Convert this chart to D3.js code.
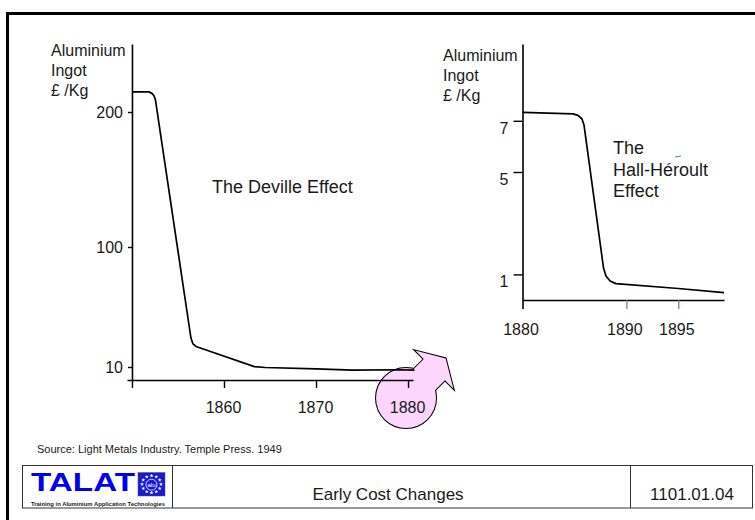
<!DOCTYPE html>
<html lang="en">
<head>
<meta charset="utf-8">
<title>Early Cost Changes</title>
<style>
  body { margin: 0; background: #fff; }
  svg text { font-family: Arial, "Liberation Sans", sans-serif; fill: #1a1a1a; }
</style>
<script src="https://cdn.jsdelivr.net/npm/d3@7"></script>
</head>
<body>
<svg id="chart" width="755" height="520"></svg>
<script>
// ---- data ----
// Deville period (left panel), price in pounds per kg
var leftYears  = [1850, 1851.85, 1852.17, 1852.39, 1852.55, 1856.41, 1856.63, 1856.96, 1863.3, 1864.5, 1870, 1874, 1879, 1880.7];
var leftPrice  = [214.8, 214.8, 213.7, 211.9, 208.9, 31.7, 27.3, 25.4, 10.3, 9.6, 8.6, 7.6, 7.9, 7.6];
var leftYTicks = [10, 100, 200];
var leftXTicks = [1850, 1860, 1870, 1880];

// Hall-Heroult period (right panel)
var rightYears  = [1880, 1884.86, 1885.34, 1885.73, 1885.92, 1887.8, 1888.04, 1888.43, 1889.0, 1895, 1899.4];
var rightPrice  = [7.33, 7.27, 7.21, 7.07, 6.84, 1.25, 0.94, 0.74, 0.64, 0.45, 0.29];
var rightYTicks = [1, 5, 7];
var rightXTicks = [1880, 1890, 1895];

var svg = d3.select("#chart");

// slide frame (only top and left edges fall inside the picture)
svg.append("rect")
  .attr("x", 7.5).attr("y", 13.5)
  .attr("width", 800).attr("height", 600)
  .attr("fill", "none").attr("stroke", "#000").attr("stroke-width", 3);

// ---------- left panel ----------
var xL = d3.scaleLinear().domain([1849.46, 1880.54]).range([127, 413]);
// the slide's axis is not linear: piecewise scale
var yL = d3.scaleLinear().domain([0, 10, 100, 200, 250]).range([380, 367, 247, 112, 44]);

// pink circle + arrow behind the 1880 label
var cx = xL(1880) - 2, cy = yL(0) + 18;
var arrowPts = [[0, -15], [40, -15], [40, -27], [56, 0], [40, 27], [40, 15], [0, 15]];
var deco = svg.append("g");
function drawDeco(stroked) {
  deco.append("polygon")
    .attr("points", arrowPts.map(function(p) { return p.join(","); }).join(" "))
    .attr("transform", "translate(" + cx + "," + cy + ") rotate(-45)")
    .attr("fill", "#fdd6fd")
    .attr("stroke", stroked ? "#000" : "none").attr("stroke-width", 2);
  deco.append("circle")
    .attr("cx", cx).attr("cy", cy).attr("r", 30)
    .attr("fill", "#fdd6fd")
    .attr("stroke", stroked ? "#000" : "none").attr("stroke-width", 2);
}
drawDeco(true);
drawDeco(false);

var gLy = svg.append("g")
  .attr("transform", "translate(" + xL(1850) + ",0)")
  .call(d3.axisLeft(yL).tickValues(leftYTicks).tickSize(4).tickSizeOuter(0).tickPadding(5));
gLy.selectAll("text").style("font-size", "16px").attr("dy", "0.36em");

var gLx = svg.append("g")
  .attr("transform", "translate(0," + yL(0) + ")")
  .call(d3.axisBottom(xL).tickValues(leftXTicks).tickSize(8).tickSizeOuter(0)
    .tickFormat(function(d) { return d == 1850 ? "" : d; }));
gLx.selectAll("text").style("font-size", "16px").attr("y", 33).attr("dy", 0).attr("dx", -1);

[gLy, gLx].forEach(function(g) {
  g.select(".domain").attr("stroke", "#000").attr("stroke-width", 1.6);
  g.selectAll(".tick line").attr("stroke", "#000").attr("stroke-width", 1.4);
});

var leftLine = d3.line()
  .x(function(d, i) { return xL(leftYears[i]); })
  .y(function(d) { return yL(d); });
svg.append("path")
  .attr("d", leftLine(leftPrice))
  .attr("fill", "none").attr("stroke", "#000").attr("stroke-width", 1.7)
  .attr("stroke-linejoin", "round");

var unitsL = ["Aluminium", "Ingot", "£ /Kg"];
svg.append("g").selectAll("text").data(unitsL).enter().append("text")
  .attr("x", 51).attr("y", function(d, i) { return 56 + i * 20; })
  .style("font-size", "16px").text(function(d) { return d; });

svg.append("text").attr("x", 212).attr("y", 193)
  .style("font-size", "18px").text("The Deville Effect");

// ---------- right panel ----------
var xR = d3.scaleLinear().domain([1880, 1899.4]).range([522.5, 724]);
var yR = d3.scaleLinear().domain([0, 10]).range([300, 44]);

var gRy = svg.append("g")
  .attr("transform", "translate(" + xR(1880) + ",0)")
  .call(d3.axisLeft(yR).tickValues(rightYTicks).tickSize(9).tickSizeOuter(0).tickPadding(5));
gRy.selectAll("text").style("font-size", "16px").attr("dy", "0.72em").attr("y", 1);

var gRx = svg.append("g")
  .attr("transform", "translate(0," + yR(0) + ")")
  .call(d3.axisBottom(xR).tickValues(rightXTicks).tickSize(9).tickSizeOuter(0)
    .tickFormat(d3.format("d")));
gRx.selectAll("text").style("font-size", "16px").attr("y", 35).attr("dy", 0).attr("dx", -2);

[gRy, gRx].forEach(function(g) {
  g.select(".domain").attr("stroke", "#000").attr("stroke-width", 1.6);
  g.selectAll(".tick line").attr("stroke", "#000").attr("stroke-width", 1.4);
});
gRx.selectAll(".tick line")
  .attr("stroke", function(d) { return d == 1880 ? "#000" : "#b04ec8"; })
  .attr("stroke-width", function(d) { return d == 1880 ? 1.6 : 1.2; });

var rightLine = d3.line()
  .x(function(d, i) { return xR(rightYears[i]); })
  .y(function(d) { return yR(d); });
svg.append("path")
  .attr("d", rightLine(rightPrice))
  .attr("fill", "none").attr("stroke", "#000").attr("stroke-width", 1.7)
  .attr("stroke-linejoin", "round");

svg.append("g").selectAll("text").data(unitsL).enter().append("text")
  .attr("x", 443).attr("y", function(d, i) { return 61 + i * 20; })
  .style("font-size", "16px").text(function(d) { return d; });

var effectR = ["The", "Hall-Héroult", "Effect"];
svg.append("g").selectAll("text").data(effectR).enter().append("text")
  .attr("x", 613).attr("y", function(d, i) { return 154 + i * 21.5; })
  .style("font-size", "18px").text(function(d) { return d; });
// stray blue mark on the slide
svg.append("line").attr("x1", 675).attr("x2", 681).attr("y1", 157).attr("y2", 156)
  .attr("stroke", "#3f7fc8").attr("stroke-width", 1);

// ---------- source + footer ----------
svg.append("text").attr("x", 37).attr("y", 453)
  .style("font-size", "11px").text("Source: Light Metals Industry. Temple Press. 1949");

var foot = svg.append("g");
foot.append("rect").attr("x", 22.5).attr("y", 465.5).attr("width", 730).attr("height", 42.5)
  .attr("fill", "none").attr("stroke", "#333").attr("stroke-width", 1);
[172.5, 630.5].forEach(function(x) {
  foot.append("line").attr("x1", x).attr("x2", x).attr("y1", 465.5).attr("y2", 508)
    .attr("stroke", "#333").attr("stroke-width", 1);
});
foot.append("text").attr("x", 31).attr("y", 491)
  .attr("textLength", 104).attr("lengthAdjust", "spacingAndGlyphs")
  .style("font-size", "25px").style("font-weight", "bold").style("fill", "#0000f0")
  .text("TALAT");
foot.append("text").attr("x", 31).attr("y", 505.5)
  .attr("textLength", 134).attr("lengthAdjust", "spacingAndGlyphs")
  .style("font-size", "6px").style("font-weight", "bold").style("fill", "#222")
  .text("Training in Aluminium Application Technologies");

// small EU-style logo
var lx = 138, ly = 472.5, lw = 27, lh = 23.5;
foot.append("rect").attr("x", lx).attr("y", ly).attr("width", lw).attr("height", lh)
  .attr("fill", "#1a1ad6").attr("stroke", "#555").attr("stroke-width", 0.5);
var lcx = lx + lw / 2, lcy = ly + lh / 2;
foot.append("circle").attr("cx", lcx).attr("cy", lcy + 0.5).attr("r", 5.5)
  .attr("fill", "none").attr("stroke", "#fff").attr("stroke-width", 0.8);
d3.range(12).forEach(function(k) {
  var a = k / 12 * 2 * Math.PI;
  foot.append("path")
    .attr("d", d3.symbol(d3.symbolStar, 5)())
    .attr("transform", "translate(" + (lcx + 9.5 * Math.cos(a)) + "," + (lcy + 8.5 * Math.sin(a)) + ")")
    .attr("fill", "#fff");
});
foot.append("text").attr("x", lcx).attr("y", lcy + 2.5).attr("text-anchor", "middle")
  .style("font-size", "6px").style("fill", "#fff").text("alu");

foot.append("text").attr("x", 388).attr("y", 500).attr("text-anchor", "middle")
  .style("font-size", "17px").text("Early Cost Changes");
foot.append("text").attr("x", 692).attr("y", 500).attr("text-anchor", "middle")
  .style("font-size", "17px").text("1101.01.04");
</script>
</body>
</html>
